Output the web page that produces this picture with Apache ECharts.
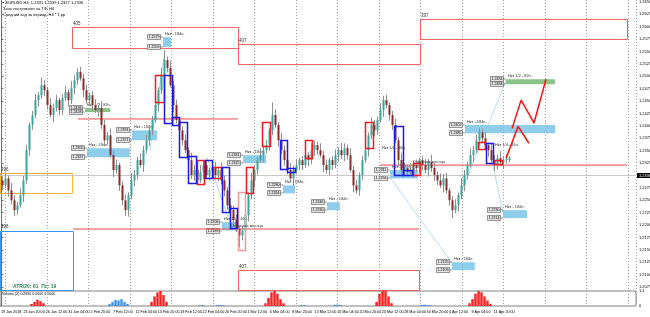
<!DOCTYPE html>
<html><head><meta charset="utf-8">
<script src="https://cdn.jsdelivr.net/npm/echarts@6/dist/echarts.min.js"></script>
<style>html,body{margin:0;padding:0;background:#fff}#c{width:650px;height:317px}</style>
</head><body><div id="c"></div>
<script>
// ---------- DATA ----------
const barOpen = [1.2290,1.2280,1.2294,1.2270,1.2250,1.2230,1.2240,1.2260,1.2290,1.2351,
1.2402,1.2422,1.2452,1.2462,1.2482,1.2472,1.2442,1.2422,1.2436,1.2452,
1.2432,1.2456,1.2468,1.2452,1.2476,1.2492,1.2509,1.2496,1.2472,1.2452,
1.2462,1.2442,1.2432,1.2436,1.2402,1.2371,1.2381,1.2341,1.2311,1.2321,
1.2280,1.2250,1.2230,1.2260,1.2290,1.2301,1.2331,1.2321,1.2351,1.2371,
1.2391,1.2412,1.2442,1.2472,1.2502,1.2533,1.2517,1.2482,1.2442,1.2412,
1.2391,1.2371,1.2351,1.2331,1.2301,1.2311,1.2290,1.2307,1.2321,1.2301,
1.2311,1.2315,1.2301,1.2311,1.2290,1.2270,1.2240,1.2230,1.2210,1.2193,
1.2179,1.2189,1.2220,1.2260,1.2290,1.2311,1.2331,1.2341,1.2351,1.2361,
1.2391,1.2422,1.2402,1.2371,1.2351,1.2331,1.2311,1.2294,1.2311,1.2321,
1.2331,1.2321,1.2341,1.2331,1.2351,1.2361,1.2351,1.2341,1.2321,1.2311,
1.2331,1.2321,1.2341,1.2351,1.2341,1.2355,1.2341,1.2311,1.2280,1.2270,
1.2301,1.2331,1.2351,1.2381,1.2402,1.2391,1.2412,1.2432,1.2452,1.2442,
1.2422,1.2402,1.2371,1.2331,1.2311,1.2315,1.2307,1.2311,1.2321,1.2315,
1.2331,1.2321,1.2311,1.2327,1.2315,1.2301,1.2290,1.2280,1.2294,1.2270,
1.2250,1.2230,1.2240,1.2260,1.2280,1.2301,1.2321,1.2341,1.2351,1.2371,
1.2387,1.2375,1.2361,1.2351,1.2331,1.2321,1.2335,1.2327,1.2331,1.2331];
const barClose = [1.2280,1.2294,1.2270,1.2250,1.2230,1.2240,1.2260,1.2290,1.2351,1.2402,
1.2422,1.2452,1.2462,1.2482,1.2472,1.2442,1.2422,1.2436,1.2452,1.2432,
1.2456,1.2468,1.2452,1.2476,1.2492,1.2509,1.2496,1.2472,1.2452,1.2462,
1.2442,1.2432,1.2436,1.2402,1.2371,1.2381,1.2341,1.2311,1.2321,1.2280,
1.2250,1.2230,1.2260,1.2290,1.2301,1.2331,1.2321,1.2351,1.2371,1.2391,
1.2412,1.2442,1.2472,1.2502,1.2533,1.2517,1.2482,1.2442,1.2412,1.2391,
1.2371,1.2351,1.2331,1.2301,1.2311,1.2290,1.2307,1.2321,1.2301,1.2311,
1.2315,1.2301,1.2311,1.2290,1.2270,1.2240,1.2230,1.2210,1.2193,1.2179,
1.2189,1.2220,1.2260,1.2290,1.2311,1.2331,1.2341,1.2351,1.2361,1.2391,
1.2422,1.2402,1.2371,1.2351,1.2331,1.2311,1.2294,1.2311,1.2321,1.2331,
1.2321,1.2341,1.2331,1.2351,1.2361,1.2351,1.2341,1.2321,1.2311,1.2331,
1.2321,1.2341,1.2351,1.2341,1.2355,1.2341,1.2311,1.2280,1.2270,1.2301,
1.2331,1.2351,1.2381,1.2402,1.2391,1.2412,1.2432,1.2452,1.2442,1.2422,
1.2402,1.2371,1.2331,1.2311,1.2315,1.2307,1.2311,1.2321,1.2315,1.2331,
1.2321,1.2311,1.2327,1.2315,1.2301,1.2290,1.2280,1.2294,1.2270,1.2250,
1.2230,1.2240,1.2260,1.2280,1.2301,1.2321,1.2341,1.2351,1.2371,1.2387,
1.2375,1.2361,1.2351,1.2331,1.2321,1.2335,1.2327,1.2331,1.2334,1.2336];
const barHigh = [1.2298,1.2306,1.2300,1.2285,1.2260,1.2247,1.2274,1.2299,1.2362,1.2407,
1.2430,1.2464,1.2468,1.2497,1.2492,1.2479,1.2456,1.2445,1.2463,1.2457,
1.2464,1.2480,1.2474,1.2491,1.2502,1.2516,1.2519,1.2505,1.2483,1.2467,
1.2470,1.2454,1.2442,1.2451,1.2412,1.2388,1.2395,1.2350,1.2332,1.2326,
1.2288,1.2262,1.2266,1.2305,1.2311,1.2338,1.2345,1.2360,1.2382,1.2396,
1.2420,1.2454,1.2478,1.2517,1.2553,1.2540,1.2531,1.2491,1.2453,1.2417,
1.2399,1.2383,1.2357,1.2346,1.2321,1.2318,1.2321,1.2330,1.2332,1.2316,
1.2323,1.2327,1.2317,1.2326,1.2300,1.2277,1.2254,1.2239,1.2221,1.2198,
1.2197,1.2232,1.2266,1.2305,1.2321,1.2338,1.2355,1.2360,1.2372,1.2396,
1.2447,1.2434,1.2408,1.2386,1.2361,1.2338,1.2325,1.2320,1.2332,1.2336,
1.2339,1.2353,1.2347,1.2366,1.2371,1.2368,1.2365,1.2350,1.2332,1.2336,
1.2339,1.2353,1.2357,1.2366,1.2365,1.2362,1.2355,1.2320,1.2291,1.2306,
1.2339,1.2363,1.2387,1.2417,1.2412,1.2419,1.2446,1.2461,1.2463,1.2447,
1.2430,1.2414,1.2377,1.2346,1.2325,1.2322,1.2325,1.2330,1.2332,1.2336,
1.2339,1.2333,1.2333,1.2342,1.2325,1.2308,1.2304,1.2303,1.2305,1.2275,
1.2258,1.2252,1.2266,1.2295,1.2311,1.2328,1.2355,1.2360,1.2382,1.2395,
1.2395,1.2387,1.2367,1.2366,1.2341,1.2342,1.2349,1.2340,1.2343,1.2339];
const barLow = [1.2270,1.2274,1.2257,1.2242,1.2218,1.2221,1.2235,1.2246,1.2283,1.2340,
1.2392,1.2416,1.2439,1.2454,1.2460,1.2433,1.2417,1.2408,1.2429,1.2421,
1.2422,1.2450,1.2439,1.2444,1.2464,1.2483,1.2491,1.2458,1.2445,1.2441,
1.2432,1.2426,1.2419,1.2394,1.2359,1.2362,1.2336,1.2297,1.2304,1.2269,
1.2240,1.2218,1.2217,1.2252,1.2278,1.2292,1.2316,1.2307,1.2344,1.2360,
1.2381,1.2406,1.2429,1.2464,1.2490,1.2508,1.2477,1.2428,1.2405,1.2380,
1.2361,1.2345,1.2318,1.2293,1.2289,1.2281,1.2285,1.2293,1.2294,1.2290,
1.2301,1.2295,1.2288,1.2282,1.2258,1.2231,1.2225,1.2196,1.2186,1.2155,
1.2169,1.2183,1.2207,1.2252,1.2278,1.2302,1.2326,1.2327,1.2344,1.2350,
1.2381,1.2396,1.2358,1.2343,1.2319,1.2302,1.2289,1.2280,1.2304,1.2310,
1.2311,1.2315,1.2318,1.2323,1.2339,1.2342,1.2336,1.2307,1.2304,1.2300,
1.2311,1.2315,1.2328,1.2333,1.2329,1.2332,1.2306,1.2266,1.2263,1.2259,
1.2291,1.2325,1.2338,1.2373,1.2379,1.2382,1.2407,1.2418,1.2435,1.2411,
1.2392,1.2365,1.2318,1.2303,1.2299,1.2298,1.2302,1.2297,1.2308,1.2304,
1.2311,1.2305,1.2298,1.2307,1.2289,1.2281,1.2275,1.2266,1.2263,1.2239,
1.2214,1.2224,1.2227,1.2252,1.2268,1.2292,1.2316,1.2327,1.2344,1.2360,
1.2365,1.2355,1.2338,1.2323,1.2309,1.2312,1.2322,1.2313,1.2324,1.2327];
const totalSlots = 212;              // bars + empty shift area
const priceTicksMin = 1.2050, priceTicksMax = 1.2675, priceStep = 0.0025;
const timeLabels = ['19 Jan 2018','23 Jan 20:00','26 Jan 12:00','31 Jan 04:00','2 Feb 20:00','7 Feb 12:00',
 '12 Feb 04:00','14 Feb 20:00','19 Feb 12:00','22 Feb 04:00','26 Feb 20:00','1 Mar 12:00','6 Mar 04:00',
 '8 Mar 20:00','13 Mar 12:00','16 Mar 04:00','20 Mar 20:00','23 Mar 12:00','28 Mar 04:00','30 Mar 20:00',
 '4 Apr 12:00','9 Apr 04:00','11 Apr 20:00'];
// indicator histogram [barIndex, value]
const histRed = [[10,.15],[11,.3],[12,.45],[13,.35],[14,.2],[50,.3],[51,.7],[52,1.0],[53,1.1],[54,.8],[55,.3],
 [88,.2],[89,.6],[90,1.0],[91,1.1],[92,.9],[93,.5],[94,.2],[125,.3],[126,.9],[127,1.1],[128,1.1],[129,.7],[130,.2],
 [156,.2],[157,.5],[158,.9],[159,1.1],[160,1.0],[161,.7],[162,.4],[163,.15]];
const histBlue = [[36,.15],[37,.3],[38,.45],[39,.4],[40,.5],[41,.3],[42,.15],[66,.05],[67,.08],[72,.06],[73,.08],[74,.05],
 [100,.06],[101,.05],[111,.08],[112,.1],[113,.06],[140,.08],[141,.1],[142,.07],[143,.05]];
// level rectangles [fromBar, toBar, priceTop, priceBottom]
const levelRects = [[23.5,78.8,1.2599,1.2557],[78.8,139.5,1.2565,1.2525],[139.5,208.5,1.2616,1.2575],[78.8,139.2,1.2109,1.2069]];
const levelNames = ['405','407','397','407'];
const orangeRects = [[-0.5,23.5,1.2305,1.2264]];
const blueRects = [[-0.5,23.8,1.2189,1.2069]];
const sideNames = ['396','398'];
// candle-group boxes [fromBar, toBar, priceTop, priceBottom]
const redBoxes = [[51.2,54.2,1.2502,1.2448],[65.2,67.5,1.2331,1.2282],[70.5,73.2,1.2317,1.2294],[81.5,83.8,1.2317,1.2264],
 [86.8,89.5,1.2408,1.2359],[101.2,103.5,1.2371,1.2335],[121.2,123.8,1.2408,1.2355],[137,139.2,1.2325,1.2301],
 [158.8,161.2,1.2367,1.2353],[164.2,166.8,1.2331,1.2323]];
const paleRedBoxes = [[78.8,81.2,1.2266,1.2149]];
const blueBoxes = [[54.2,56.8,1.2502,1.2406],[56.8,59.2,1.2418,1.2402],[59.2,61.8,1.2408,1.2337],[62.2,64.8,1.2339,1.2284],
 [67.8,70.2,1.2331,1.2294],[73.5,75.8,1.2317,1.2226],[76.2,78.5,1.2234,1.2193],[92.8,95.2,1.2371,1.2313],
 [95.2,97.8,1.2315,1.2307],[130.8,133.8,1.2399,1.2301],[133.8,136.8,1.2311,1.2301],[161.5,163.8,1.2365,1.2325]];
// filled zones [fromBar, toBar, priceTop, priceBottom]
const blueZones = [[53.8,56.5,1.2579,1.2559],[28.5,42.8,1.2355,1.2337],[43.5,51.8,1.2391,1.2371],[80.5,88.2,1.2341,1.2325],
 [93.8,97.8,1.2280,1.2264],[108.5,112.8,1.2246,1.2230],[129.5,138.8,1.2311,1.2294],[154.5,184.5,1.2402,1.2385],
 [167.2,175.2,1.2230,1.2214],[150.2,157.8,1.2125,1.2109],[73.5,78.8,1.2206,1.2189]];
const blueZoneNames = ['Нкз - 184п.','Нкз - 184п.','Нкз - 184п.','Нкз - 184п.','Нкз - 184п.','Нкз - 184п.',
 'Нкз - 184п.','Нкз - 184п.','Нкз - 184п.','Нкз - 184п.','Нкз 1/4 - 46п.'];
const greenZones = [[168.2,184.5,1.2494,1.2484],[27.8,36.2,1.2436,1.2428]];
const greenZoneNames = ['Нкз 1/2 - 82п.','Нкз 1/2 - 82п.'];
// horizontal levels [fromBar, toBar, price]
const monthOpenLines = [[25.5,78.8,1.2414],[23.8,139.2,1.2192],[126.2,208.5,1.2321]];
// diagonal connectors [[bar,price],[bar,price]]
const connectors = [[[49.5,1.2351],[54.5,1.2553]],[[68.5,1.2337],[76.2,1.2204]],[[129.5,1.2296],[150.2,1.2123]],
 [[152.8,1.2260],[168.2,1.2492]],[[163.8,1.2321],[167.2,1.2224]]];
// projected path
const projA = [[170.2,1.2395],[173.2,1.2452],[177.5,1.2406],[181.5,1.2494]];
const projB = [[168.2,1.2335],[172.2,1.2399],[175.8,1.2365]];
// free notes
const noteText = ['Открытие месяца','Открытие месяца','Нкз 1/4 - 46п.','Нкз 1/4 - 46п.'];
const noteBar  = [76.5,137.2,126.8,164.5];
const notePrice= [1.2199,1.2327,1.2355,1.2361];
const lastPrice = 1.2336, askPrice = 1.2342;

// ---------- CHART ----------
const FONT = 'Liberation Sans';
const chart = echarts.init(document.getElementById('c'), null, {renderer:'canvas'});
const BULL = '#3aa59b', BEAR = '#8c2a2a';

function candle(params, api){
  const i=api.value(0), o=api.value(1), c=api.value(2), l=api.value(3), h=api.value(4);
  const pO=api.coord([i,o]), pC=api.coord([i,c]), pL=api.coord([i,l]), pH=api.coord([i,h]);
  const w = Math.max(1, api.size([1,0])[0]*0.67);
  const top=Math.min(pO[1],pC[1]); const bh=Math.max(1,Math.abs(pO[1]-pC[1]));
  const x=Math.round(pO[0])+0.5;
  return {type:'group',children:[
    {type:'line',shape:{x1:x,y1:pH[1],x2:x,y2:pL[1]},style:{stroke:'#8f8f8f',lineWidth:1}},
    {type:'rect',shape:{x:x-w/2,y:top,width:w,height:bh},style:{fill:c>=o?BULL:BEAR}}
  ]};
}
function rectSeries(rows, style, z, names){
  return {type:'custom', xAxisIndex:0, yAxisIndex:0, z:z, silent:true, clip:false,
    data: rows, encode:{x:[0,1], y:[2,3]},
    renderItem:(p,api)=>{
      const a=api.coord([api.value(0),api.value(2)]), b=api.coord([api.value(1),api.value(3)]);
      const kids=[{type:'rect',shape:{x:Math.round(a[0])+0.5,y:Math.round(a[1])+0.5,width:Math.round(b[0]-a[0]),height:Math.round(b[1]-a[1])},style:style}];
      if(names && names[p.dataIndex]) kids.push({type:'text',x:Math.round(a[0])+1,y:a[1]-1,style:{text:names[p.dataIndex],font:'4.5px '+FONT,fill:'#333',textVerticalAlign:'bottom'}});
      return {type:'group',children:kids};
    }};
}
function zoneSeries(rows, fill, names){
  return {type:'custom', xAxisIndex:0, yAxisIndex:0, z:3, silent:true, clip:false,
    data: rows, encode:{x:[0,1], y:[2,3]},
    renderItem:(p,api)=>{
      const t=api.value(2), bt=api.value(3);
      const a=api.coord([api.value(0),t]), b=api.coord([api.value(1),bt]);
      const x0=Math.round(a[0]);
      const tag=(y,val)=>[
        {type:'rect',shape:{x:x0-15.5,y:Math.round(y)-2.5,width:13,height:5},style:{fill:'#e4e4e4',stroke:'#555',lineWidth:0.6}},
        {type:'text',x:x0-9,y:Math.round(y),style:{text:val.toFixed(4),font:'3.6px '+FONT,fill:'#000',textAlign:'center',textVerticalAlign:'middle'}},
        {type:'line',shape:{x1:x0-2.5,y1:Math.round(y),x2:x0,y2:Math.round(y)},style:{stroke:'#555',lineWidth:0.6}}
      ];
      return {type:'group',children:[
        {type:'rect',shape:{x:x0,y:a[1],width:b[0]-a[0],height:b[1]-a[1]},style:{fill:fill}},
        ...tag(a[1],t), ...tag(b[1],bt),
        {type:'text',x:x0+2,y:a[1]-1,style:{text:names[p.dataIndex],font:'3.9px '+FONT,fill:'#333',textVerticalAlign:'bottom'}}
      ]};
    }};
}
function lineSeries(pts, color, width, type, z){
  return {type:'line', xAxisIndex:0, yAxisIndex:0, data:pts, symbol:'none', silent:true, z:z||4,
    lineStyle:{color:color, width:width, type:type||'solid'}, animation:false};
}

const labelGridLeft = 1, labelStep = 22.4;
const gridLeft = 5.5, gridStep = 41.5;

const series = [
  {type:'custom', name:'EURUSD,H4', xAxisIndex:0, yAxisIndex:0, z:5, renderItem:candle,
   data: barOpen.map((o,i)=>[i,o,barClose[i],barLow[i],barHigh[i]]), encode:{x:0,y:[1,2,3,4]},
   markLine:{silent:true, symbol:'none', animation:false,
     data:[{yAxis:lastPrice, lineStyle:{color:'#b5b5b5',width:1,type:'solid'},
            label:{show:true,position:'end',distance:1,formatter:lastPrice.toFixed(4),backgroundColor:'#000',color:'#fff',fontSize:4,fontFamily:FONT,padding:[1,2,0,2]}},
           {yAxis:askPrice, lineStyle:{color:'#c8c8c8',width:1,type:'solid'},label:{show:false}}]}},
  zoneSeries(blueZones, 'rgba(122,196,232,0.85)', blueZoneNames),
  zoneSeries(greenZones, 'rgba(120,185,115,0.85)', greenZoneNames),
  rectSeries(levelRects, {fill:'none',stroke:'#f06262',lineWidth:1}, 2, levelNames),
  rectSeries(orangeRects, {fill:'none',stroke:'#ffb43c',lineWidth:1}, 2, [sideNames[0]]),
  rectSeries(blueRects, {fill:'none',stroke:'#3c94ee',lineWidth:1}, 2, [sideNames[1]]),
  rectSeries(paleRedBoxes, {fill:'none',stroke:'#f59a9a',lineWidth:1.5}, 6),
  rectSeries(redBoxes, {fill:'none',stroke:'#ee1c1c',lineWidth:1.5}, 6),
  rectSeries(blueBoxes, {fill:'none',stroke:'#1a1ae6',lineWidth:1.5}, 6),
  ...monthOpenLines.map(l=>lineSeries([[l[0],l[2]],[l[1],l[2]]], '#f04848', 1)),
  ...connectors.map(c=>lineSeries(c, '#b8dcf2', 1, 'solid', 2)),
  lineSeries(projA, '#ff1010', 1.5, 'solid', 7),
  lineSeries(projB, '#ff1010', 1.5, 'solid', 7),
  {type:'custom', xAxisIndex:0, yAxisIndex:0, z:7, silent:true, clip:false,
   data: noteBar.map((b,i)=>[b,notePrice[i]]), encode:{x:0,y:1},
   renderItem:(p,api)=>{const q=api.coord([api.value(0),api.value(1)]);
     return {type:'text',x:q[0],y:q[1],style:{text:noteText[p.dataIndex],font:'3.9px '+FONT,fill:'#333',textVerticalAlign:'middle'}};}},
  {type:'bar', xAxisIndex:1, yAxisIndex:1, data:histRed, barWidth:2.4, itemStyle:{color:'#ff1f1f'}, silent:true, animation:false},
  {type:'bar', xAxisIndex:1, yAxisIndex:1, data:histBlue, barWidth:2.4, barGap:'-100%', itemStyle:{color:'#3d93ea'}, silent:true, animation:false}
];

const option = {
  animation:false, backgroundColor:'#ffffff',
  textStyle:{fontFamily:FONT},
  grid:[
    {left:0, right:14, top:-10.4, height:309.8, outerBoundsMode:'none', containLabel:false},
    {left:0, right:14, top:291, height:15, show:true, borderColor:'#808080', borderWidth:1, outerBoundsMode:'none', containLabel:false},
    {left:labelGridLeft, right:14, top:0, height:306, outerBoundsMode:'none', containLabel:false},
    {left:gridLeft, right:14, top:0, height:306, outerBoundsMode:'none', containLabel:false}
  ],
  xAxis:[
    {gridIndex:0, type:'value', min:-0.5, max:totalSlots-0.5, show:false},
    {gridIndex:1, type:'value', min:-0.5, max:totalSlots-0.5, show:false},
    {gridIndex:2, type:'value', min:0, max:(636-labelGridLeft)/labelStep, interval:1, position:'bottom',
      axisLine:{show:false}, splitLine:{show:false},
      axisTick:{show:false},
      axisLabel:{show:true, fontSize:3.7, color:'#000', align:'left', margin:4, showMinLabel:true, showMaxLabel:false, hideOverlap:false,
        formatter:v=>timeLabels[Math.round(v)]||''}},
    {gridIndex:3, type:'value', min:0, max:(636-gridLeft)/gridStep, interval:1,
      axisLine:{show:false}, axisTick:{show:false}, axisLabel:{show:false},
      splitLine:{show:true, lineStyle:{color:'#a0a0a0', width:1, type:[1,2]}}}
  ],
  yAxis:[
    {gridIndex:0, type:'value', position:'right', min:priceTicksMin, max:priceTicksMax, interval:priceStep,
      axisLine:{show:true, lineStyle:{color:'#707070'}}, axisTick:{show:true, length:2, lineStyle:{color:'#707070'}},
      splitLine:{show:false},
      axisLabel:{fontSize:4, color:'#000', margin:3, showMinLabel:false, showMaxLabel:false, formatter:v=>v.toFixed(4)}},
    {gridIndex:1, type:'value', position:'right', min:0, max:1.1, interval:1.1,
      axisLine:{show:true, lineStyle:{color:'#707070'}}, axisTick:{show:false}, splitLine:{show:false},
      axisLabel:{fontSize:4, color:'#000', margin:3, formatter:v=>v===0?'0':'1.1'}},
    {gridIndex:2, type:'value', show:false},
    {gridIndex:3, type:'value', show:false}
  ],
  graphic:[
    {type:'text', left:3, top:1, style:{text:'▪ EURUSD,H4  1.2331 1.2339 1.2327 1.2336', font:'4px '+FONT, fill:'#000'}},
    {type:'text', left:3, top:7, style:{text:'Зона построения на ТФ: H4', font:'4px '+FONT, fill:'#000'}},
    {type:'text', left:3, top:13, style:{text:'Средний ход за период: H4 * 1 pp', font:'4px '+FONT, fill:'#000'}},
    {type:'text', left:13, top:284, style:{text:'ATR/20: 81  Пс: 19', font:'bold 5px '+FONT, fill:'#2e8b57'}},
    {type:'text', left:2, top:292, style:{text:'Volume (2) 0.2690 0.0000 0.0000', font:'3.6px '+FONT, fill:'#000'}}
  ],
  series: series
};
chart.setOption(option);
</script></body></html>
